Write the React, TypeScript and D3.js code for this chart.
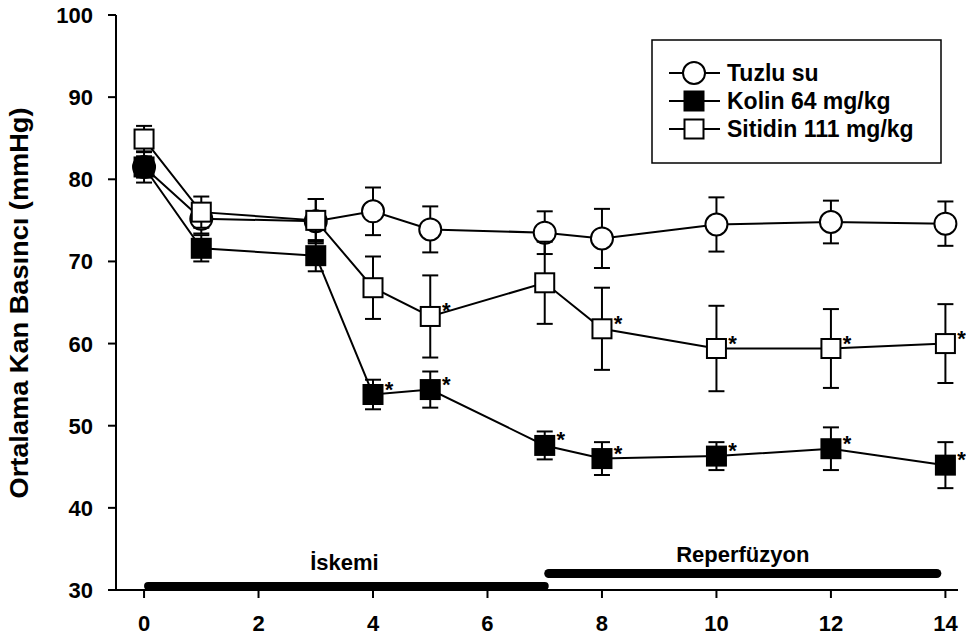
import React from "react";
import * as d3 from "d3";

const times = [0, 1, 3, 4, 5, 7, 8, 10, 12, 14];
const tuzluMean = [81.5, 75.2, 74.9, 76.1, 73.9, 73.5, 72.8, 74.5, 74.8, 74.6];
const tuzluErr = [1.3, 1.8, 2.7, 2.9, 2.8, 2.6, 3.6, 3.3, 2.6, 2.7];
const kolinMean = [81.5, 71.6, 70.7, 53.8, 54.4, 47.6, 46.0, 46.3, 47.2, 45.2];
const kolinErr = [1.9, 1.6, 1.9, 1.8, 2.2, 1.7, 2.0, 1.7, 2.6, 2.8];
const sitidinMean = [84.9, 76.0, 75.0, 66.8, 63.3, 67.4, 61.8, 59.4, 59.4, 60.0];
const sitidinErr = [1.6, 1.9, 2.6, 3.8, 5.0, 5.0, 5.0, 5.2, 4.8, 4.8];
const kolinSig = [false, false, false, true, true, true, true, true, true, true];
const sitidinSig = [false, false, false, false, true, false, true, true, true, true];

const xTicks = [0, 2, 4, 6, 8, 10, 12, 14];
const yTicks = [30, 40, 50, 60, 70, 80, 90, 100];

const seriesNames = ["Tuzlu su", "Kolin 64 mg/kg", "Sitidin 111 mg/kg"];
const phaseLabels = ["İskemi", "Reperfüzyon"];
const phaseRanges: [number, number][] = [[0.07, 7.0], [7.0, 13.85]];
const yTitle = "Ortalama Kan Basıncı (mmHg)";

const FONT = "'Liberation Sans', Arial, Helvetica, sans-serif";

export default function App() {
  const x = d3.scaleLinear().domain([-0.49, 14.22]).range([116, 958]);
  const y = d3.scaleLinear().domain([30, 100]).range([590, 15]);

  const series = [
    { name: seriesNames[0], mean: tuzluMean, err: tuzluErr, sig: null as boolean[] | null, shape: "circle", fill: "#fff" },
    { name: seriesNames[1], mean: kolinMean, err: kolinErr, sig: kolinSig, shape: "square", fill: "#000" },
    { name: seriesNames[2], mean: sitidinMean, err: sitidinErr, sig: sitidinSig, shape: "square", fill: "#fff" },
  ];

  const line = d3
    .line<number>()
    .x((_, i) => x(times[i]))
    .y((d) => y(d));

  const marker = (shape: string, fill: string, cx: number, cy: number, key: string | number) =>
    shape === "circle" ? (
      <circle key={key} cx={cx} cy={cy} r={11} fill={fill} stroke="#000" strokeWidth={2} />
    ) : (
      <rect key={key} x={cx - 9.5} y={cy - 9.5} width={19} height={19} fill={fill} stroke="#000" strokeWidth={2} />
    );

  const capW = 8;

  return (
    <svg
      width={966}
      height={640}
      style={{ position: "absolute", left: 0, top: 0, background: "#fff" }}
      fontFamily={FONT}
    >
      <rect x={0} y={0} width={966} height={640} fill="#fff" />
      {/* axes */}
      <line x1={116} x2={116} y1={y(100)} y2={y(30)} stroke="#000" strokeWidth={2} />
      <line x1={116} x2={x(14.22)} y1={y(30)} y2={y(30)} stroke="#000" strokeWidth={2} />
      {yTicks.map((t) => (
        <g key={"yt" + t}>
          <line x1={108} x2={116} y1={y(t)} y2={y(t)} stroke="#000" strokeWidth={2} />
          <text x={93} y={y(t) + 8} textAnchor="end" fontSize={22} fontWeight="bold">
            {t}
          </text>
        </g>
      ))}
      {xTicks.map((t) => (
        <g key={"xt" + t}>
          <line x1={x(t)} x2={x(t)} y1={y(30)} y2={y(30) + 8} stroke="#000" strokeWidth={2} />
          <text x={x(t)} y={631} textAnchor="middle" fontSize={22} fontWeight="bold">
            {t}
          </text>
        </g>
      ))}
      <text
        transform={`translate(28,303) rotate(-90)`}
        textAnchor="middle"
        fontSize={25}
        fontWeight="bold"
        textLength={391}
        lengthAdjust="spacingAndGlyphs"
      >
        {yTitle}
      </text>

      {/* phase bars */}
      <line x1={x(phaseRanges[0][0])} x2={x(phaseRanges[0][1])} y1={586} y2={586} stroke="#000" strokeWidth={8} strokeLinecap="round" />
      <line x1={x(phaseRanges[1][0]) + 4} x2={x(phaseRanges[1][1])} y1={573.5} y2={573.5} stroke="#000" strokeWidth={9} strokeLinecap="round" />
      <text x={x((phaseRanges[0][0] + phaseRanges[0][1]) / 2) - 2} y={570} textAnchor="middle" fontSize={22} fontWeight="bold">
        {phaseLabels[0]}
      </text>
      <text x={x((phaseRanges[1][0] + phaseRanges[1][1]) / 2) + 2} y={562} textAnchor="middle" fontSize={22} fontWeight="bold">
        {phaseLabels[1]}
      </text>

      {/* lines */}
      {series.map((s, si) => (
        <path key={"l" + si} d={line(s.mean) || ""} fill="none" stroke="#000" strokeWidth={2} />
      ))}

      {/* series error bars + markers */}
      {series.map((s, si) => (
        <g key={"s" + si}>
          {s.mean.map((m, i) => {
            const cx = x(times[i]);
            const top = y(m + s.err[i]);
            const bot = y(m - s.err[i]);
            return (
              <g key={"e" + i}>
                <line x1={cx} x2={cx} y1={top} y2={bot} stroke="#000" strokeWidth={2} />
                <line x1={cx - capW} x2={cx + capW} y1={top} y2={top} stroke="#000" strokeWidth={2} />
                <line x1={cx - capW} x2={cx + capW} y1={bot} y2={bot} stroke="#000" strokeWidth={2} />
              </g>
            );
          })}
          {s.mean.map((m, i) => marker(s.shape, s.fill, x(times[i]), y(m), "m" + i))}
          {s.sig &&
            s.mean.map((m, i) =>
              s.sig && s.sig[i] ? (
                <text key={"a" + i} x={x(times[i]) + 16} y={y(m) + 2} textAnchor="middle" fontSize={22} fontWeight="bold">
                  *
                </text>
              ) : null
            )}
        </g>
      ))}

      {/* legend */}
      <rect x={652} y={40} width={289} height={123} fill="#fff" stroke="#000" strokeWidth={1.5} />
      {series.map((s, i) => {
        const cy = 73 + i * 28;
        return (
          <g key={"lg" + i}>
            <line x1={669} x2={720} y1={cy} y2={cy} stroke="#000" strokeWidth={2} />
            {marker(s.shape, s.fill, 694, cy, "lm" + i)}
            <text x={727} y={cy + 8} fontSize={23} fontWeight="bold">
              {s.name}
            </text>
          </g>
        );
      })}
    </svg>
  );
}
